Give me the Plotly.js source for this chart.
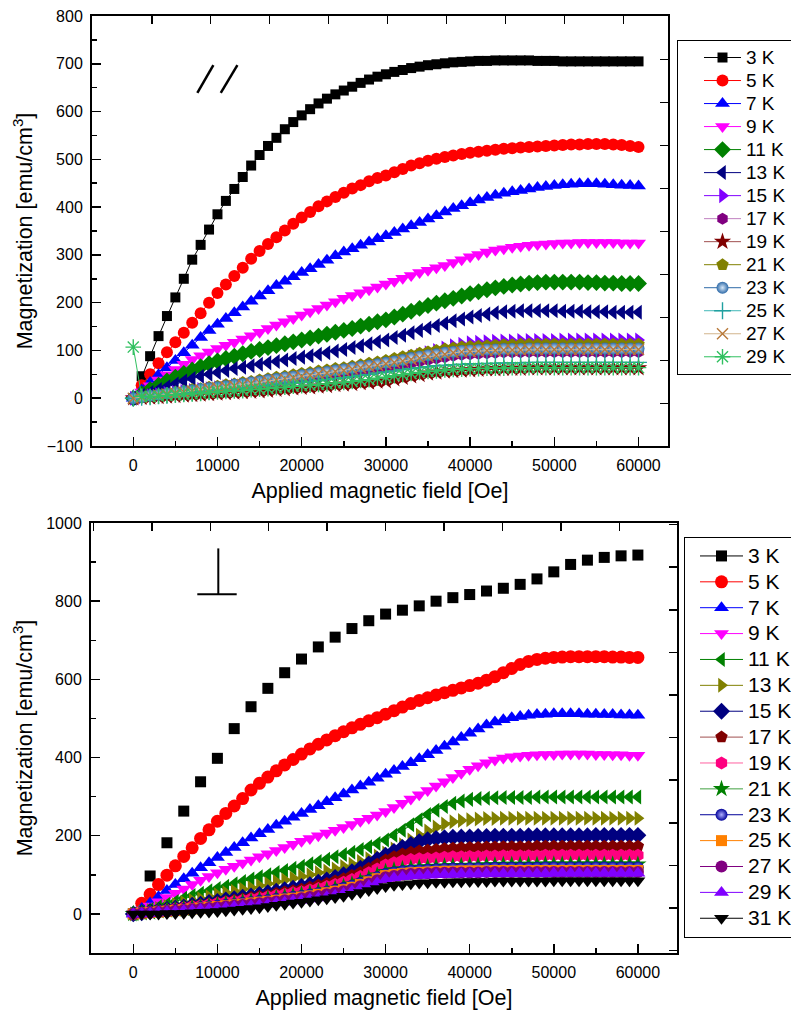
<!DOCTYPE html>
<html><head><meta charset="utf-8">
<script src="https://cdn.plot.ly/plotly-3.0.1.min.js"></script>
<style>html,body{margin:0;padding:0;background:#fff}#chart{width:791px;height:1017px}</style>
</head><body><div id="chart"></div>
<script>
// ---------- DATA ----------
const fieldOe = [0,1000,2000,3000,4000,5000,6000,7000,8000,9000,10000,11000,12000,13000,14000,15000,16000,17000,18000,19000,20000,21000,22000,23000,24000,25000,26000,27000,28000,29000,30000,31000,32000,33000,34000,35000,36000,37000,38000,39000,40000,41000,42000,43000,44000,45000,46000,47000,48000,49000,50000,51000,52000,53000,54000,55000,56000,57000,58000,59000,60000];
const fieldOe2k = [0,2000,4000,6000,8000,10000,12000,14000,16000,18000,20000,22000,24000,26000,28000,30000,32000,34000,36000,38000,40000,42000,44000,46000,48000,50000,52000,54000,56000,58000,60000];

const topLabels = ['3 K','5 K','7 K','9 K','11 K','13 K','15 K','17 K','19 K','21 K','23 K','25 K','27 K','29 K'];
const bottomLabels = ['3 K','5 K','7 K','9 K','11 K','13 K','15 K','17 K','19 K','21 K','23 K','25 K','27 K','29 K','31 K'];

// parallel field (top panel), emu/cm3
const m3K_par = [0,46,88,130,172,211,250,290,321,353,385,413,438,463,487,509,528,545,563,578,592,605,617,627,636,644,652,660,667,673,678,683,687,691,694,697,699,701,703,704,705,706,706,707,707,707,707,707,706,706,706,705,705,705,705,705,705,705,705,705,705];
const m5K_par = [0,27,50,73,96,117,137,158,178,200,220,238,256,273,292,308,323,337,351,365,378,390,402,412,421,430,439,446,454,461,466,473,480,487,492,497,501,505,508,511,514,516,518,520,522,523,525,526,527,528,529,530,531,531,532,532,532,531,530,528,526];
const m7K_par = [0,17,33,49,64,79,95,111,127,142,155,167,179,191,203,214,225,236,245,254,263,271,280,289,298,306,313,320,327,334,340,347,354,361,368,375,382,390,397,403,409,415,420,425,429,432,435,438,441,443,445,447,448,449,449,449,448,447,446,445,444];
const m9K_par = [0,13,26,38,49,60,71,81,89,97,104,111,117,124,131,138,146,153,160,167,174,181,188,195,202,209,215,221,227,233,239,245,251,257,263,268,273,278,284,290,296,301,306,310,313,316,318,320,322,323,324,325,325,326,326,326,326,326,325,325,325];
const m11K_par = [0,9,18,27,36,44,52,59,66,72,78,83,88,93,98,102,106,110,114,118,122,126,130,134,138,142,146,151,155,160,164,170,176,182,188,194,199,204,209,214,219,223,227,231,234,237,239,241,242,243,243,243,243,243,242,242,241,241,240,240,240];
const m13K_par = [0,6,12,18,24,30,36,41,46,50,54,58,62,65,68,71,74,77,80,83,86,89,92,95,99,102,106,110,114,118,122,127,132,137,142,147,152,157,162,166,170,173,176,179,181,182,183,183,183,183,183,182,182,182,181,181,181,180,180,180,180];
const m15K_par = [0,2,5,7,10,12,14,16,18,20,22,24,26,28,30,32,34,36,38,40,42,44,47,50,52,55,58,61,65,68,72,77,81,86,90,95,100,105,110,113,116,117,118,119,120,120,121,121,121,121,121,122,122,122,122,122,122,122,122,122,122];
const m17K_par = [0,2,4,6,8,10,12,14,15,17,19,21,23,25,27,29,31,33,36,38,40,42,44,47,49,51,53,56,58,61,63,66,70,73,77,80,83,86,89,91,92,93,94,95,96,96,96,97,97,97,97,97,97,97,97,97,97,97,97,97,97];
const m19K_par = [0,1,2,3,4,5,6,7,8,9,10,11,12,13,14,15,16,18,19,21,22,23,25,26,28,29,30,32,33,35,36,40,43,46,49,52,54,56,57,58,59,60,61,61,62,62,62,63,63,63,63,63,63,63,63,63,63,63,63,63,63];
const m21K_par = [0,3,5,8,10,13,15,18,20,23,25,28,30,33,35,38,41,44,46,49,52,54,57,59,62,64,67,70,73,76,79,83,87,90,94,97,100,103,105,107,108,109,110,111,112,112,113,113,113,113,113,113,113,113,113,113,113,113,113,113,113];
const m23K_par = [0,2,5,7,10,12,14,16,19,21,23,25,28,30,33,35,38,40,43,45,48,50,53,55,58,60,63,66,68,71,74,77,80,84,87,90,92,95,97,99,100,101,102,102,103,103,103,104,104,104,104,104,104,104,104,104,104,104,104,104,104];
const m25K_par = [0,2,3,5,6,8,10,11,13,14,16,18,19,21,22,24,26,28,29,31,33,35,37,39,41,43,45,48,50,53,55,57,60,62,64,66,68,69,70,71,72,72,73,73,74,74,74,75,75,75,75,75,75,75,75,75,75,75,75,75,75];
const m27K_par = [0,2,4,7,9,11,13,15,18,20,22,24,26,29,31,33,36,38,41,43,46,48,51,53,56,58,61,64,66,69,72,75,78,81,84,87,90,92,95,97,98,99,100,100,101,101,101,102,102,102,102,102,102,102,102,102,102,102,102,102,102];
const m29K_par = [107,4,3,4,6,7,8,9,10,12,13,14,15,16,18,19,20,22,23,25,26,27,29,30,32,33,35,37,39,42,44,47,49,52,54,56,57,59,60,61,62,62,63,63,63,64,64,64,64,64,64,64,64,64,64,64,64,64,64,64,64];

// perpendicular field (bottom panel), emu/cm3
const m3K_perp = [0,97,182,263,338,398,474,530,577,617,652,683,708,730,750,767,777,788,800,809,817,826,833,843,857,875,894,905,912,916,918];
const m5K_perp = [0,27,50,75,99,123,147,169,193,215,237,257,276,295,317,334,350,366,381,395,409,422,434,445,456,466,476,485,494,502,511,520,529,538,546,553,560,566,572,578,584,590,598,607,617,628,638,646,651,654,656,657,658,658,658,658,658,657,657,656,656];
const m7K_perp = [0,14,28,44,60,75,90,104,118,131,144,157,170,182,194,205,216,227,237,247,257,267,277,287,297,307,317,327,337,347,357,367,377,387,397,407,418,429,440,451,462,473,483,491,497,502,505,508,510,511,512,512,512,512,511,511,510,510,509,509,508];
const m9K_perp = [0,10,20,31,42,53,64,75,86,96,105,114,122,130,138,146,154,162,170,178,186,193,200,207,214,221,229,237,245,253,262,272,283,294,305,316,327,338,349,360,370,379,387,394,399,402,404,406,407,408,408,409,409,409,409,408,408,407,407,406,406];
const m11K_perp = [0,5,11,18,25,32,40,47,53,59,65,71,77,83,89,95,100,106,111,117,122,128,134,140,146,152,158,165,172,180,189,201,214,228,241,254,265,275,283,289,293,295,296,297,298,298,298,298,299,299,299,299,299,299,299,299,299,299,299,299,299];
const m13K_perp = [0,4,9,14,19,24,29,34,39,44,49,54,58,63,67,72,77,82,87,91,96,100,105,110,115,121,127,134,141,148,156,166,177,189,201,212,222,230,236,239,241,243,244,244,245,245,245,245,245,245,245,245,245,245,245,245,245,245,245,245,245];
const m15K_perp = [0,3,6,9,12,15,18,22,25,29,32,36,39,43,46,50,54,58,62,66,70,75,81,87,93,100,108,117,128,139,150,160,170,178,185,190,193,195,196,197,197,198,198,199,199,199,199,200,200,200,200,200,200,200,200,201,201,201,201,201,201];
const m17K_perp = [0,3,6,8,11,14,17,20,23,26,29,32,35,38,42,45,48,52,56,59,63,68,73,78,84,90,98,106,116,127,138,146,153,158,161,163,165,167,168,169,170,170,171,171,172,172,172,172,173,173,173,173,173,173,173,173,173,173,173,173,173];
const m19K_perp = [0,3,5,8,10,13,16,19,21,24,27,30,32,35,38,41,44,47,50,54,57,61,65,70,75,81,88,96,105,115,125,131,136,139,141,142,143,145,146,146,147,147,148,148,149,149,149,149,149,150,150,150,150,150,150,150,150,150,150,150,150];
const m21K_perp = [0,2,4,7,9,11,13,16,18,21,23,26,28,31,33,36,39,41,44,47,50,53,57,61,65,70,76,83,91,99,108,112,115,117,119,120,121,122,123,123,124,124,125,125,126,126,126,126,126,127,127,127,127,127,127,127,127,127,127,127,127];
const m23K_perp = [0,2,4,6,8,10,12,14,17,19,21,23,25,28,30,33,35,38,40,43,46,49,53,57,61,66,72,79,86,94,102,106,109,111,112,113,114,115,116,116,117,117,117,118,118,118,118,118,118,119,119,119,119,119,119,119,119,119,119,119,119];
const m25K_perp = [0,2,4,5,7,9,11,13,15,17,19,21,23,25,28,30,32,35,38,40,43,46,50,54,58,62,68,75,82,90,98,101,103,105,106,107,108,109,109,110,110,110,110,111,111,111,111,111,111,111,111,111,111,111,111,111,111,111,111,111,111];
const m27K_perp = [0,2,3,5,6,8,10,12,13,15,17,19,21,23,25,27,30,32,35,37,40,43,46,50,54,58,64,71,78,86,94,97,100,102,103,104,105,105,106,106,106,106,107,107,107,107,107,107,107,107,107,107,107,107,107,107,107,107,107,107,107];
const m29K_perp = [0,1,2,4,5,6,8,9,11,12,14,16,18,19,21,23,25,28,30,33,35,38,41,44,48,52,58,65,72,80,88,92,95,97,98,99,100,101,101,102,102,102,103,103,103,103,103,103,103,103,104,104,104,104,104,104,104,104,104,104,104];
const m31K_perp = [0,0,0,0,1,1,2,3,4,5,6,8,10,12,14,16,19,22,25,28,30,33,36,39,42,45,50,55,60,65,70,73,75,77,79,80,81,81,82,82,83,83,83,84,84,84,84,84,84,84,85,85,85,85,85,85,85,85,85,85,85];

const topSeries = [m3K_par,m5K_par,m7K_par,m9K_par,m11K_par,m13K_par,m15K_par,m17K_par,m19K_par,m21K_par,m23K_par,m25K_par,m27K_par,m29K_par];
const bottomSeries = [m3K_perp,m5K_perp,m7K_perp,m9K_perp,m11K_perp,m13K_perp,m15K_perp,m17K_perp,m19K_perp,m21K_perp,m23K_perp,m25K_perp,m27K_perp,m29K_perp,m31K_perp];

// ---------- STYLES ----------
const FONT = 'Liberation Sans, Arial, Helvetica, sans-serif';
const topStyles = [
  {sym:'square', c:'#000000', lc:'#000000', size:10},
  {sym:'circle', c:'#ff0000', lc:'#ff0000', size:12},
  {sym:'triangle-up', c:'#0000ff', lc:'#0000ff', size:13},
  {sym:'triangle-down', c:'#ff00ff', lc:'#ff00ff', size:13},
  {sym:'diamond', c:'#008000', lc:'#008000', size:13},
  {sym:'triangle-left', c:'#000080', lc:'#000080', size:13},
  {sym:'triangle-right', c:'#8000ff', lc:'#8000ff', size:13},
  {sym:'hexagon', c:'#800080', lc:'#c080c0', size:12},
  {sym:'star', c:'#800000', lc:'#a05050', size:13},
  {sym:'pentagon', c:'#808000', lc:'#808000', size:13},
  {sym:'circle', c:'#2e6aa8', lc:'#2e6aa8', size:12, grad:'#d8e8f8'},
  {sym:'cross-thin-open', c:'#20a0a0', lc:'#40b8b8', size:12, open:true},
  {sym:'x-thin-open', c:'#b87838', lc:'#d2b48c', size:11, open:true},
  {sym:'asterisk-open', c:'#30c060', lc:'#30c060', size:13, open:true}
];
const bottomStyles = [
  {sym:'square', c:'#000000', lc:'#000000', size:11, noLine:true},
  {sym:'circle', c:'#ff0000', lc:'#ff0000', size:13},
  {sym:'triangle-up', c:'#0000ff', lc:'#0000ff', size:13},
  {sym:'triangle-down', c:'#ff00ff', lc:'#ff00ff', size:13},
  {sym:'triangle-left', c:'#008000', lc:'#008000', size:13},
  {sym:'triangle-right', c:'#808000', lc:'#808000', size:13},
  {sym:'diamond', c:'#000080', lc:'#000080', size:13},
  {sym:'pentagon', c:'#800000', lc:'#a05050', size:13},
  {sym:'hexagon', c:'#ff0080', lc:'#ff60a0', size:13},
  {sym:'star', c:'#008000', lc:'#40a040', size:13},
  {sym:'circle', c:'#000099', lc:'#000099', size:12, grad:'#b0b0ff'},
  {sym:'square', c:'#ff8000', lc:'#ff8000', size:11},
  {sym:'circle', c:'#800080', lc:'#800080', size:12},
  {sym:'triangle-up', c:'#8000ff', lc:'#8000ff', size:13},
  {sym:'triangle-down', c:'#000000', lc:'#000000', size:13}
];

function makeTrace(x, y, label, st, xa, ya, leg, fs, opts) {
  const t = {
    type:'scatter', mode:'lines+markers', x:x, y:y,
    name:'<span style="font-size:' + fs + 'px">' + label + '</span>',
    xaxis:xa, yaxis:ya, legend:leg, hoverinfo:'x+y+name',
    line:{color:st.lc, width:1},
    marker:{symbol:st.sym, color:st.c, size:st.size,
            line:{width: st.open ? 1.4 : 0, color: st.c}}
  };
  if (st.grad) t.marker.gradient = {type:'radial', color:st.grad};
  return Object.assign(t, opts || {});
}

const traces = [];
topSeries.forEach((ys, i) => {
  traces.push(makeTrace(fieldOe, ys, topLabels[i], topStyles[i], 'x', 'y', 'legend', 19));
});
bottomSeries.forEach((ys, i) => {
  const st = bottomStyles[i];
  const xs = (ys.length === fieldOe2k.length) ? fieldOe2k : fieldOe;
  if (st.noLine) {
    traces.push(makeTrace(xs, ys, bottomLabels[i], st, 'x2', 'y2', 'legend2', 21, {mode:'markers', showlegend:false}));
    traces.push(makeTrace([null], [null], bottomLabels[i], st, 'x2', 'y2', 'legend2', 21));
  } else {
    traces.push(makeTrace(xs, ys, bottomLabels[i], st, 'x2', 'y2', 'legend2', 21));
  }
});
// carriers for the opposite-side tick axes
[['x3','y'],['x','y3'],['x4','y2'],['x2','y4']].forEach(p => {
  traces.push({type:'scatter', x:[null], y:[null], xaxis:p[0], yaxis:p[1], showlegend:false, hoverinfo:'skip', mode:'markers'});
});

// ---------- LAYOUT ----------
const W = 791, H = 1017;
const tickFont = {family:FONT, size:16, color:'#000'};
const titleFont = {family:FONT, size:21.5, color:'#000'};
function baseAxis(extra) {
  return Object.assign({
    showline:true, linecolor:'#000', linewidth:2, mirror:true,
    ticks:'inside', ticklen:9, tickwidth:1.5, tickcolor:'#000',
    showgrid:false, zeroline:false, tickfont:tickFont, ticklabelstandoff:4,
    exponentformat:'none', separatethousands:false, tickformat:'d',
    fixedrange:true
  }, extra);
}
function ghostAxis(extra) {
  return Object.assign({
    showline:false, ticks:'inside', ticklen:8, tickwidth:1.5, tickcolor:'#000',
    showticklabels:false, showgrid:false, zeroline:false, fixedrange:true
  }, extra);
}
const topXRange = [-4900, 63500];
const botXRange = [-5030, 64650];

const layout = {
  width:W, height:H, margin:{l:0, r:0, t:0, b:0, autoexpand:false},
  paper_bgcolor:'#fff', plot_bgcolor:'#fff',
  font:{family:FONT, color:'#000'},
  showlegend:true,
  xaxis: baseAxis({domain:[92/W, 668/W], range:topXRange, anchor:'y', tick0:0, dtick:10000,
    minor:{ticks:'inside', ticklen:5, tickwidth:1.5, tickcolor:'#000', dtick:5000},
    title:{text:'Applied magnetic field [Oe]', font:titleFont, standoff:10}}),
  yaxis: baseAxis({domain:[1-446/H, 1-16/H], range:[-100, 800], anchor:'x', tick0:0, dtick:100,
    minor:{ticks:'inside', ticklen:5, tickwidth:1.5, tickcolor:'#000', dtick:50},
    title:{text:'Magnetization [emu/cm<sup>3</sup>]', font:titleFont, standoff:8}}),
  xaxis3: ghostAxis({overlaying:'x', side:'top', anchor:'y', range:topXRange, tick0:2200, dtick:7000}),
  yaxis3: ghostAxis({overlaying:'y', side:'right', anchor:'x', range:[-100, 800], tick0:-11, dtick:90}),
  xaxis2: baseAxis({domain:[91/W, 677/W], range:botXRange, anchor:'y2', tick0:0, dtick:10000,
    minor:{ticks:'inside', ticklen:5, tickwidth:1.5, tickcolor:'#000', dtick:5000},
    title:{text:'Applied magnetic field [Oe]', font:titleFont, standoff:10}}),
  yaxis2: baseAxis({domain:[1-953/H, 1-523/H], range:[-100, 1000], anchor:'x2', tick0:0, dtick:200,
    minor:{ticks:'inside', ticklen:5, tickwidth:1.5, tickcolor:'#000', dtick:100},
    title:{text:'Magnetization [emu/cm<sup>3</sup>]', font:titleFont, standoff:8}}),
  xaxis4: ghostAxis({overlaying:'x2', side:'top', anchor:'y2', range:botXRange, tick0:2200, dtick:6950}),
  yaxis4: ghostAxis({overlaying:'y2', side:'right', anchor:'x2', range:[-100, 1000], tick0:887, dtick:109}),
  legend: {x:677/W, y:1-40/H, xref:'paper', yref:'paper', xanchor:'left', yanchor:'top',
    bgcolor:'#fff', bordercolor:'#000', borderwidth:1, itemwidth:37, indentation:21, tracegroupgap:0,
    font:{family:FONT, size:15.4, color:'#000'}},
  legend2: {x:684/W, y:1-537/H, xref:'paper', yref:'paper', xanchor:'left', yanchor:'top',
    bgcolor:'#fff', bordercolor:'#000', borderwidth:1, itemwidth:43, indentation:10, tracegroupgap:0,
    font:{family:FONT, size:17.6, color:'#000'}},
  shapes: [
    // "//" parallel-field symbol
    {type:'line', xref:'x', yref:'y', x0:7610, y0:639, x1:9512, y1:697, line:{color:'#000', width:2.5}},
    {type:'line', xref:'x', yref:'y', x0:10393, y0:639, x1:12366, y1:697, line:{color:'#000', width:2.5}},
    // perpendicular-field symbol
    {type:'line', xref:'x2', yref:'y2', x0:10107, y0:818, x1:10107, y1:935, line:{color:'#000', width:2}},
    {type:'line', xref:'x2', yref:'y2', x0:7610, y0:818, x1:12295, y1:818, line:{color:'#000', width:2}}
  ]
};

Plotly.newPlot('chart', traces, layout, {displayModeBar:false, staticPlot:true});
</script>
</body></html>
